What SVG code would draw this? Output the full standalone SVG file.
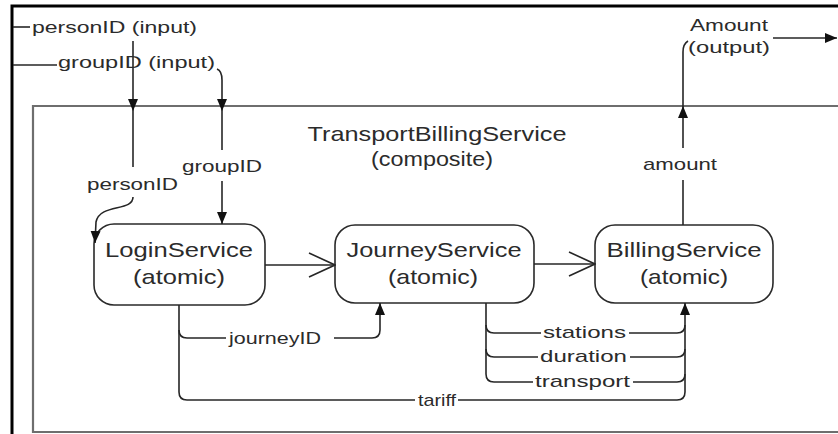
<svg xmlns="http://www.w3.org/2000/svg" width="838" height="434" viewBox="0 0 838 434">
<style>
  text { font-family: "Liberation Sans", Arial, sans-serif; fill: #2b2b2b; }
  .lbl { font-size: 17px; }
  .big { font-size: 21px; }
  .ln { fill: none; stroke: #262626; stroke-width: 1.6; }
  .node { fill: #ffffff; stroke: #2a2a2a; stroke-width: 1.6; }
</style>
<defs>
  <marker id="tri" viewBox="0 0 12 12" refX="12" refY="6" markerWidth="12" markerHeight="12" markerUnits="userSpaceOnUse" orient="auto">
    <path d="M0,1 L12,6 L0,11 z" fill="#111"/>
  </marker>
  <marker id="vee" viewBox="0 0 28 28" refX="27" refY="13" markerWidth="28" markerHeight="28" markerUnits="userSpaceOnUse" orient="auto">
    <path d="M1,1 L27,13 L1,25" fill="none" stroke="#262626" stroke-width="1.6"/>
  </marker>
</defs>
<rect width="838" height="434" fill="#ffffff"/>
<!-- outer frame -->
<path d="M12,434 L12,6 L838,6" fill="none" stroke="#000" stroke-width="3"/>
<!-- composite -->
<g id="composite">
  <path d="M840,106 L33,106 L33,432 L840,432" fill="none" stroke="#6e6e6e" stroke-width="2.2"/>
  <text class="big" x="437" y="141" text-anchor="middle" textLength="259" lengthAdjust="spacingAndGlyphs">TransportBillingService</text>
  <text class="big" x="432" y="166" text-anchor="middle" textLength="122" lengthAdjust="spacingAndGlyphs">(composite)</text>
</g>
<g id="login">
  <rect class="node" x="94" y="224" width="171" height="81" rx="20"/>
  <text class="big" x="179" y="257" text-anchor="middle" textLength="148" lengthAdjust="spacingAndGlyphs">LoginService</text>
  <text class="big" x="179" y="284" text-anchor="middle" textLength="92" lengthAdjust="spacingAndGlyphs">(atomic)</text>
</g>
<g id="journey">
  <rect class="node" x="335" y="225" width="199" height="78" rx="20"/>
  <text class="big" x="434" y="257" text-anchor="middle" textLength="175" lengthAdjust="spacingAndGlyphs">JourneyService</text>
  <text class="big" x="433" y="284" text-anchor="middle" textLength="90" lengthAdjust="spacingAndGlyphs">(atomic)</text>
</g>
<g id="billing">
  <rect class="node" x="595" y="225" width="178" height="78" rx="20"/>
  <text class="big" x="684" y="257" text-anchor="middle" textLength="155" lengthAdjust="spacingAndGlyphs">BillingService</text>
  <text class="big" x="684" y="284" text-anchor="middle" textLength="88" lengthAdjust="spacingAndGlyphs">(atomic)</text>
</g>
<g id="connectors">
  <!-- personID input -->
  <path class="ln" d="M13,27 L30,27"/>
  <text class="lbl" x="32" y="33" textLength="165" lengthAdjust="spacingAndGlyphs">personID (input)</text>
  <path class="ln" d="M133,41 L133,111" marker-end="url(#tri)"/>
  <path class="ln" d="M133,111 L133,167"/>
  <text class="lbl" x="87" y="190" textLength="91" lengthAdjust="spacingAndGlyphs">personID</text>
  <path class="ln" d="M133,197 C133,212 100,203 96,222 L95,243" marker-end="url(#tri)"/>
  <!-- groupID input -->
  <path class="ln" d="M13,65 L57,65"/>
  <text class="lbl" x="58" y="68" textLength="157" lengthAdjust="spacingAndGlyphs">groupID (input)</text>
  <path class="ln" d="M217,69 Q222,71 222,80 L222,111" marker-end="url(#tri)"/>
  <path class="ln" d="M222,111 L222,150"/>
  <text class="lbl" x="182" y="172" textLength="80" lengthAdjust="spacingAndGlyphs">groupID</text>
  <path class="ln" d="M222,181 L222,224" marker-end="url(#tri)"/>
  <!-- node to node -->
  <path class="ln" d="M265,265 L335,265" marker-end="url(#vee)"/>
  <path class="ln" d="M534,264 L595,264" marker-end="url(#vee)"/>
  <!-- journeyID / tariff -->
  <path class="ln" d="M179,305 L179,392 Q179,400 187,400 L415,400"/>
  <path class="ln" d="M179,330 Q179,338 187,338 L226,338"/>
  <text class="lbl" x="229" y="344" textLength="92" lengthAdjust="spacingAndGlyphs">journeyID</text>
  <path class="ln" d="M334,338 L372,338 Q380,338 380,330 L380,303" marker-end="url(#tri)"/>
  <text class="lbl" x="418" y="406" textLength="38" lengthAdjust="spacingAndGlyphs">tariff</text>
  <path class="ln" d="M458,400 L677,400 Q685,400 685,392 L685,303" marker-end="url(#tri)"/>
  <!-- stations / duration / transport -->
  <path class="ln" d="M486,303 L486,374 Q486,382 494,382 L533,382"/>
  <path class="ln" d="M486,325 Q486,333 494,333 L541,333"/>
  <path class="ln" d="M486,349 Q486,357 494,357 L538,357"/>
  <text class="lbl" x="543" y="338" textLength="83" lengthAdjust="spacingAndGlyphs">stations</text>
  <text class="lbl" x="540" y="362" textLength="87" lengthAdjust="spacingAndGlyphs">duration</text>
  <text class="lbl" x="535" y="387" textLength="95" lengthAdjust="spacingAndGlyphs">transport</text>
  <path class="ln" d="M629,333 L677,333 Q685,333 685,325"/>
  <path class="ln" d="M630,357 L677,357 Q685,357 685,349"/>
  <path class="ln" d="M633,382 L677,382 Q685,382 685,374"/>
  <!-- amount -->
  <path class="ln" d="M683,225 L683,180"/>
  <text class="lbl" x="643" y="170" textLength="74" lengthAdjust="spacingAndGlyphs">amount</text>
  <path class="ln" d="M683,148 L683,106" marker-end="url(#tri)"/>
  <path class="ln" d="M683,106 L683,52 Q683,44 688,41"/>
  <text class="lbl" x="729" y="31" text-anchor="middle" textLength="78" lengthAdjust="spacingAndGlyphs">Amount</text>
  <text class="lbl" x="729" y="53" text-anchor="middle" textLength="82" lengthAdjust="spacingAndGlyphs">(output)</text>
  <path class="ln" d="M773,38 L837,38" marker-end="url(#tri)"/>
</g>
</svg>
